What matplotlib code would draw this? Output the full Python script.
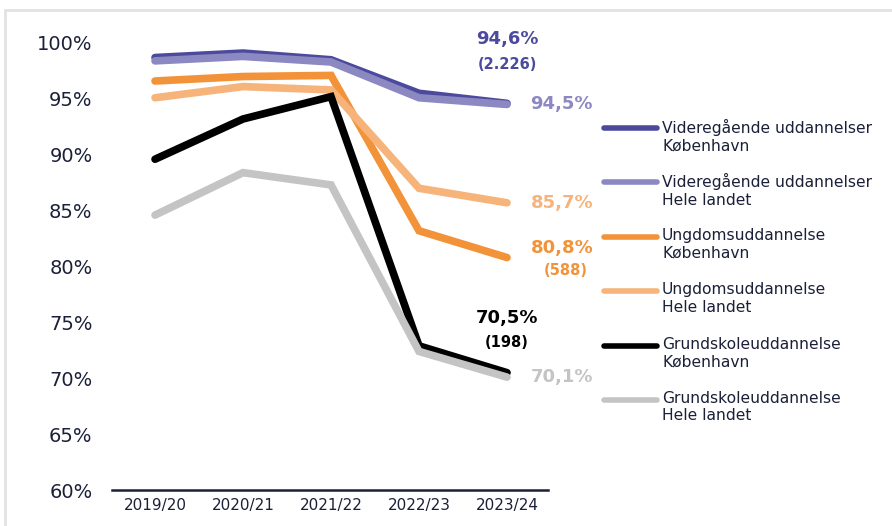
import matplotlib.pyplot as plt
from matplotlib.lines import Line2D
from matplotlib.patches import Rectangle

years = ["2019/20", "2020/21", "2021/22", "2022/23", "2023/24"]

vid_kbh = [98.7, 99.1, 98.5, 95.5, 94.6]
vid_dk = [98.4, 98.8, 98.3, 95.1, 94.5]
ung_kbh = [96.6, 97.0, 97.1, 83.2, 80.8]
ung_dk = [95.1, 96.1, 95.8, 87.0, 85.7]
grund_kbh = [89.6, 93.2, 95.2, 72.9, 70.5]
grund_dk = [84.6, 88.4, 87.3, 72.4, 70.1]

names = [
    "Videregående uddannelser\nKøbenhavn",
    "Videregående uddannelser\nHele landet",
    "Ungdomsuddannelse\nKøbenhavn",
    "Ungdomsuddannelse\nHele landet",
    "Grundskoleuddannelse\nKøbenhavn",
    "Grundskoleuddannelse\nHele landet",
]
series = [vid_kbh, vid_dk, ung_kbh, ung_dk, grund_kbh, grund_dk]
colors = ["#4b4a9c", "#8b88c2", "#f39339", "#f6b47b", "#000000", "#c4c4c4"]
counts = {0: "(2.226)", 2: "(588)", 4: "(198)"}

navy = "#1b2038"
W, H = 892, 526

fig = plt.figure(figsize=(W / 100, H / 100), dpi=100)
ax = fig.add_axes([112 / W, 1 - 490 / H, (548 - 112) / W, (490 - 43) / H])

x = list(range(len(years)))
# draw order: purple, orange, then grey under black
for i in [0, 1, 2, 3, 5, 4]:
    ax.plot(x, series[i], color=colors[i], lw=5.5, solid_capstyle="round",
            solid_joinstyle="miter", clip_on=False, zorder=2 + i)

ax.set_xlim(-0.489, 4.466)
ax.set_ylim(60, 100)
ax.set_yticks(range(60, 101, 5))
ax.set_yticklabels([f"{v}%" for v in range(60, 101, 5)], fontsize=14, color=navy)
ax.set_xticks(x)
ax.set_xticklabels(years, fontsize=11, color=navy)
ax.tick_params(length=0, pad=14, axis="y")
ax.tick_params(length=0, pad=6, axis="x")
for s in ["top", "right", "left"]:
    ax.spines[s].set_visible(False)
ax.spines["bottom"].set_color(navy)
ax.spines["bottom"].set_linewidth(1.8)

# end labels
last = len(years) - 1
ax.annotate("94,6%", (last, vid_kbh[-1]), xytext=(0, 46), textcoords="offset points",
            ha="center", va="center", fontsize=13, fontweight="bold", color=colors[0])
ax.annotate(counts[0], (last, vid_kbh[-1]), xytext=(0, 28), textcoords="offset points",
            ha="center", va="center", fontsize=10.5, fontweight="bold", color=colors[0])
ax.annotate("94,5%", (last, vid_dk[-1]), xytext=(17, 0), textcoords="offset points",
            ha="left", va="center", fontsize=13, fontweight="bold", color=colors[1])
ax.annotate("85,7%", (last, ung_dk[-1]), xytext=(17, 0), textcoords="offset points",
            ha="left", va="center", fontsize=13, fontweight="bold", color=colors[3])
ax.annotate("80,8%", (last, ung_kbh[-1]), xytext=(17, 7), textcoords="offset points",
            ha="left", va="center", fontsize=13, fontweight="bold", color=colors[2])
ax.annotate(counts[2], (last, ung_kbh[-1]), xytext=(42, -9), textcoords="offset points",
            ha="center", va="center", fontsize=10.5, fontweight="bold", color=colors[2])
ax.annotate("70,5%", (last, grund_kbh[-1]), xytext=(0, 39), textcoords="offset points",
            ha="center", va="center", fontsize=13, fontweight="bold", color="black")
ax.annotate(counts[4], (last, grund_kbh[-1]), xytext=(0, 22), textcoords="offset points",
            ha="center", va="center", fontsize=10.5, fontweight="bold", color="black")
ax.annotate("70,1%", (last, grund_dk[-1]), xytext=(17, 0), textcoords="offset points",
            ha="left", va="center", fontsize=13, fontweight="bold", color=colors[5])

# legend, handle aligned with the first text line
for i, name in enumerate(names):
    y0 = 1 - (128 + i * 54.4) / H
    fig.add_artist(Line2D([604 / W, 657 / W], [y0, y0], color=colors[i], lw=4,
                          solid_capstyle="round"))
    fig.text(662 / W, y0 + 0.017, name, fontsize=11.2, color=navy, va="top",
             linespacing=1.2)

# light frame of the source panel
fig.add_artist(Rectangle((5 / W, -0.1), 1.2, 1 - 10 / H + 0.1, transform=fig.transFigure,
                         fill=False, edgecolor="#e2e2e2", lw=2))

fig.savefig("out.png", dpi=100)
